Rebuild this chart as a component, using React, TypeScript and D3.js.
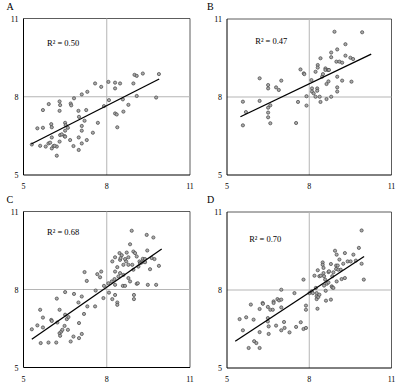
import React from "react";
import * as d3 from "d3";

const panelLabels = ["A", "B", "C", "D"];
const r2Labels = ["R² = 0.50", "R² = 0.47", "R² = 0.68", "R² = 0.70"];
const tickValues = [5, 8, 11];

const pointsA: [number, number][] = [
  [5.30, 6.17], [5.50, 6.79], [5.70, 6.81], [5.70, 7.49], [5.91, 7.72], [5.60, 6.12], [5.80, 6.09],
  [5.90, 6.21], [6.02, 6.02], [6.08, 6.11], [6.20, 6.09], [6.12, 6.12], [6.00, 6.95], [6.02, 6.83],
  [6.02, 6.44], [5.96, 6.24], [6.30, 7.82], [6.32, 7.68], [6.30, 7.46], [6.32, 6.53], [6.38, 6.56],
  [6.48, 6.49], [6.50, 6.47], [6.50, 6.70], [6.50, 7.00], [6.52, 6.91], [6.60, 6.81], [6.20, 5.74],
  [6.30, 6.28], [6.70, 7.74], [6.72, 7.67], [6.68, 6.34], [6.80, 6.11], [6.82, 7.94], [6.98, 7.46],
  [7.00, 7.23], [6.99, 6.44], [6.99, 5.96], [7.10, 6.88], [7.10, 6.70], [7.10, 6.21], [7.10, 8.09],
  [7.20, 7.08], [7.26, 7.49], [7.30, 8.19], [7.28, 6.34], [7.50, 6.62], [7.58, 8.51], [7.68, 7.00],
  [7.80, 8.38], [7.90, 7.64], [8.06, 8.57], [8.08, 7.87], [8.30, 8.54], [8.30, 8.32], [8.30, 7.36],
  [8.36, 7.32], [8.38, 6.83], [8.48, 8.51], [8.58, 7.90], [8.60, 7.43], [8.78, 7.69], [8.96, 8.51],
  [9.00, 8.84], [9.08, 8.80], [9.08, 8.03], [9.30, 8.89], [9.78, 7.97], [9.88, 8.87],
];

const pointsB: [number, number][] = [
  [5.58, 7.82], [5.58, 6.91], [5.69, 7.42], [6.19, 8.72], [6.19, 7.85], [6.50, 8.46], [6.50, 8.33],
  [6.50, 7.59], [6.50, 7.40], [6.50, 7.22], [6.58, 7.68], [6.58, 6.99], [6.79, 8.37], [6.89, 8.27],
  [6.98, 8.63], [7.52, 7.00], [7.59, 7.81], [7.68, 9.06], [7.80, 8.91], [7.82, 8.88], [7.90, 8.03],
  [7.90, 7.67], [8.08, 8.65], [8.10, 8.33], [8.10, 8.21], [8.16, 8.14], [8.23, 8.01], [8.23, 8.97],
  [8.29, 8.33], [8.29, 8.24], [8.31, 9.23], [8.31, 9.13], [8.38, 8.01], [8.41, 7.81], [8.41, 9.49],
  [8.47, 8.78], [8.50, 8.88], [8.59, 9.10], [8.59, 9.04], [8.63, 7.92], [8.63, 8.50], [8.68, 9.04],
  [8.70, 8.60], [8.72, 9.04], [8.80, 9.71], [8.80, 9.53], [8.80, 8.01], [8.92, 10.51], [8.99, 9.36],
  [9.02, 8.78], [9.02, 8.37], [9.02, 8.21], [9.02, 9.83], [9.10, 9.36], [9.20, 9.32], [9.20, 8.63],
  [9.32, 10.03], [9.32, 9.59], [9.50, 9.51], [9.60, 9.46], [9.54, 8.59], [9.93, 10.49],
];

const pointsC: [number, number][] = [
  [5.30, 6.47], [5.50, 6.62], [5.60, 7.22], [5.62, 5.94], [5.70, 6.92], [5.70, 6.54], [5.90, 5.96],
  [6.00, 6.83], [6.02, 6.79], [6.18, 5.96], [6.20, 7.65], [6.22, 6.73], [6.30, 7.22], [6.30, 6.32],
  [6.32, 6.22], [6.36, 6.38], [6.40, 6.45], [6.48, 6.60], [6.50, 7.90], [6.50, 7.03], [6.56, 6.86],
  [6.60, 6.45], [6.62, 6.94], [6.70, 6.00], [6.80, 6.19], [6.82, 7.83], [6.98, 7.50], [7.00, 6.71],
  [7.00, 6.13], [7.10, 7.73], [7.10, 6.29], [7.18, 7.06], [7.20, 8.67], [7.28, 8.33], [7.30, 7.35],
  [7.58, 7.35], [7.60, 7.96], [7.66, 8.59], [7.76, 8.47], [7.80, 8.69], [7.88, 7.67], [7.90, 8.14],
  [8.06, 8.24], [8.08, 7.88], [8.18, 8.31], [8.20, 7.63], [8.20, 9.08], [8.28, 8.40], [8.30, 8.69],
  [8.30, 8.18], [8.30, 9.24], [8.30, 7.79], [8.38, 7.50], [8.38, 7.41], [8.38, 8.86], [8.42, 8.50],
  [8.46, 9.40], [8.48, 9.14], [8.48, 8.63], [8.50, 9.21], [8.54, 9.32], [8.58, 8.14], [8.60, 8.56],
  [8.60, 8.95], [8.66, 9.17], [8.66, 8.14], [8.70, 9.08], [8.72, 9.42], [8.78, 9.24], [8.78, 8.95],
  [8.78, 8.44], [8.84, 9.74], [8.84, 8.31], [8.90, 10.26], [8.92, 8.95], [8.96, 8.76], [8.96, 9.46],
  [8.98, 7.79], [8.98, 7.63], [9.02, 9.40], [9.08, 9.27], [9.08, 8.22], [9.12, 8.24], [9.14, 8.88],
  [9.18, 9.08], [9.20, 9.01], [9.26, 9.04], [9.30, 9.18], [9.32, 9.08], [9.38, 9.17], [9.38, 9.05],
  [9.44, 10.10], [9.46, 9.50], [9.48, 8.18], [9.56, 8.78], [9.62, 9.21], [9.68, 10.00], [9.72, 9.17],
  [9.78, 8.18], [9.88, 8.91],
];

const pointsD: [number, number][] = [
  [5.46, 6.88], [5.58, 6.45], [5.70, 6.95], [5.87, 7.44], [5.97, 6.86], [5.79, 5.77], [5.99, 6.03],
  [6.07, 5.96], [6.19, 5.77], [6.19, 6.38], [6.19, 7.27], [6.30, 7.50], [6.31, 7.47], [6.49, 7.35],
  [6.49, 6.92], [6.49, 6.79], [6.52, 6.60], [6.52, 6.31], [6.58, 7.24], [6.67, 7.24], [6.70, 7.56],
  [6.70, 7.50], [6.79, 6.63], [6.84, 7.65], [6.90, 7.60], [6.98, 8.01], [6.98, 7.63], [6.98, 7.33],
  [6.98, 6.45], [7.08, 6.77], [7.10, 6.54], [7.28, 6.37], [7.46, 7.88], [7.52, 6.58], [7.69, 6.76],
  [7.79, 8.40], [7.79, 6.50], [7.88, 7.40], [7.88, 7.24], [7.88, 6.54], [8.01, 7.88], [8.09, 7.95],
  [8.13, 7.88], [8.19, 8.55], [8.24, 8.08], [8.27, 7.65], [8.27, 7.76], [8.27, 7.88], [8.30, 7.28],
  [8.31, 8.76], [8.33, 7.73], [8.37, 7.82], [8.37, 8.53], [8.42, 8.55], [8.49, 9.06], [8.49, 8.97],
  [8.52, 8.85], [8.52, 8.65], [8.54, 8.17], [8.54, 8.53], [8.58, 8.40], [8.60, 7.97], [8.61, 7.59],
  [8.64, 8.24], [8.70, 8.69], [8.70, 8.29], [8.72, 8.72], [8.79, 9.00], [8.79, 7.63], [8.82, 8.14],
  [8.84, 8.10], [8.84, 8.53], [8.88, 8.08], [8.88, 8.68], [8.94, 9.51], [8.98, 8.81], [8.98, 8.94],
  [9.00, 8.33], [9.00, 9.36], [9.04, 8.94], [9.06, 8.78], [9.10, 9.17], [9.15, 8.78], [9.18, 8.42],
  [9.24, 9.01], [9.30, 9.42], [9.30, 8.46], [9.40, 9.10], [9.51, 9.10], [9.61, 9.36], [9.70, 9.13],
  [9.81, 9.62], [9.91, 10.29], [9.91, 9.01], [9.99, 8.40],
];

// trend line endpoints [x, y] in data units
const trendA: [number, number][] = [[5.28, 6.19], [9.89, 8.68]];
const trendB: [number, number][] = [[5.49, 7.24], [10.26, 9.65]];
const trendC: [number, number][] = [[5.30, 6.09], [9.98, 9.56]];
const trendD: [number, number][] = [[5.30, 6.03], [10.0, 9.29]];

// R² label anchor positions in data units
const r2Pos: [number, number][] = [[5.85, 9.94], [6.03, 10.04], [5.85, 10.09], [5.81, 9.85]];

const allPoints = [pointsA, pointsB, pointsC, pointsD];
const allTrends = [trendA, trendB, trendC, trendD];

const layouts = [
  { left: 23.5, right: 190, top: 18.5, bottom: 175, lx: 6.5, ly: 10 },
  { left: 227, right: 391.5, top: 19, bottom: 175, lx: 207, ly: 10 },
  { left: 23.5, right: 190, top: 211.5, bottom: 367.5, lx: 6.5, ly: 203 },
  { left: 227, right: 391.5, top: 212, bottom: 368, lx: 207, ly: 203 },
];

const FONT = "'Liberation Serif', 'Times New Roman', serif";

function Panel({ i }: { i: number }) {
  const L = layouts[i];
  const x = d3.scaleLinear().domain([5, 11]).range([L.left, L.right]);
  const y = d3.scaleLinear().domain([5, 11]).range([L.bottom, L.top]);
  const line = d3
    .line<[number, number]>()
    .x((d) => x(d[0]))
    .y((d) => y(d[1]));
  return (
    <g>
      <text x={L.lx} y={L.ly} fontSize={10} fontFamily={FONT} fill="#000">
        {panelLabels[i]}
      </text>
      {/* top and right border */}
      <line x1={L.left} x2={L.right} y1={L.top} y2={L.top} stroke="#333" strokeWidth={0.8} />
      <line x1={L.right} x2={L.right} y1={L.top} y2={L.bottom} stroke="#333" strokeWidth={0.8} />
      {/* mid reference lines */}
      <line x1={x(8)} x2={x(8)} y1={L.top} y2={L.bottom} stroke="#b5b5b5" strokeWidth={1} />
      <line x1={L.left} x2={L.right} y1={y(8)} y2={y(8)} stroke="#b5b5b5" strokeWidth={1} />
      {/* axes */}
      <line x1={L.left} x2={L.left} y1={L.top} y2={L.bottom} stroke="#000" strokeWidth={1} />
      <line x1={L.left} x2={L.right} y1={L.bottom} y2={L.bottom} stroke="#000" strokeWidth={1} />
      {tickValues.map((t) => (
        <g key={"t" + t}>
          <text
            x={L.left - 5}
            y={y(t) + 3}
            fontSize={8}
            fontFamily={FONT}
            textAnchor="end"
            fill="#000"
          >
            {t}
          </text>
          <text
            x={x(t)}
            y={L.bottom + 14}
            fontSize={8}
            fontFamily={FONT}
            textAnchor="middle"
            fill="#000"
          >
            {t}
          </text>
        </g>
      ))}
      {allPoints[i].map((p, k) => (
        <circle
          key={k}
          cx={x(p[0])}
          cy={y(p[1])}
          r={1.6}
          fill="#aaaaaa"
          stroke="#444"
          strokeWidth={0.7}
        />
      ))}
      <path d={line(allTrends[i]) || ""} stroke="#000" strokeWidth={1.3} fill="none" />
      <text
        x={x(r2Pos[i][0])}
        y={y(r2Pos[i][1])}
        fontSize={8.5}
        fontFamily={FONT}
        fill="#000"
      >
        {r2Labels[i]}
      </text>
    </g>
  );
}

export default function App() {
  return (
    <svg
      width={400}
      height={386}
      style={{ position: "absolute", left: 0, top: 0, background: "#fff" }}
    >
      <rect x={0} y={0} width={400} height={386} fill="#fff" />
      {[0, 1, 2, 3].map((i) => (
        <Panel key={i} i={i} />
      ))}
    </svg>
  );
}
